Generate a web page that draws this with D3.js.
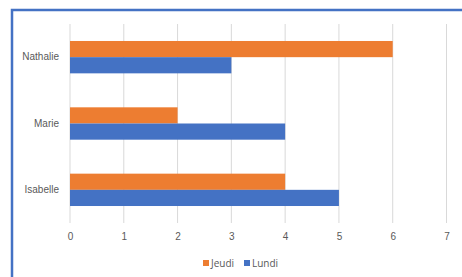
<!DOCTYPE html>
<html>
<head>
<meta charset="utf-8">
<script src="https://cdn.jsdelivr.net/npm/d3@7"></script>
<style>
	body { margin: 0; background: #fff; }
	svg { display: block; font-family: "Open Sans", "Noto Sans", sans-serif; }
</style>
</head>
<body>
<svg id="chart" width="462" height="277"></svg>
<script>
const categories = ["Nathalie", "Marie", "Isabelle"];
const seriesNames = ["Jeudi", "Lundi"];
const jeudi = [6, 2, 4];
const lundi = [3, 4, 5];
const xTicks = [0, 1, 2, 3, 4, 5, 6, 7];

const colors = { Jeudi: "#ED7D31", Lundi: "#4472C4" };

const svg = d3.select("#chart");
const width = 462, height = 277;
const marginTop = 24, marginBottom = 54, marginLeft = 70, marginRight = 15;

// frame (only top and left edges visible in the crop)
svg.append("path")
	.attr("d", `M12,${height} V10 H${width}`)
	.attr("fill", "none")
	.attr("stroke", "#4472C4")
	.attr("stroke-width", 2.5);

const x = d3.scaleLinear()
	.domain([0, 7])
	.range([marginLeft, 446.5]);

const y = d3.scaleBand()
	.domain(categories)
	.range([marginTop, height - marginBottom]);

const inner = d3.scaleBand()
	.domain(seriesNames)
	.range([0, y.bandwidth()])
	.paddingOuter(1.05)
	.paddingInner(0);

// gridlines
svg.append("g")
	.selectAll("line")
	.data(xTicks)
	.join("line")
	.attr("x1", d => x(d))
	.attr("x2", d => x(d))
	.attr("y1", marginTop)
	.attr("y2", height - marginBottom)
	.attr("stroke", "#d9d9d9")
	.attr("stroke-width", 1);

// bars
const rows = categories.map((c, i) => ({ cat: c, Jeudi: jeudi[i], Lundi: lundi[i] }));
const groups = svg.append("g")
	.selectAll("g")
	.data(rows)
	.join("g")
	.attr("transform", d => `translate(0,${y(d.cat)})`);

groups.selectAll("rect")
	.data(d => seriesNames.map(s => ({ s, v: d[s] })))
	.join("rect")
	.attr("x", x(0))
	.attr("y", d => inner(d.s))
	.attr("width", d => x(d.v) - x(0))
	.attr("height", inner.bandwidth())
	.attr("fill", d => colors[d.s]);

// x axis labels
const xAxis = svg.append("g")
	.attr("transform", `translate(0,${height - marginBottom})`)
	.call(d3.axisBottom(x).tickValues(xTicks).tickSize(0).tickPadding(10).tickFormat(d3.format("d")));
xAxis.select(".domain").remove();
xAxis.selectAll("text")
	.attr("fill", "#595959")
	.attr("font-size", "10px");

// y axis labels
const yAxis = svg.append("g")
	.attr("transform", `translate(${marginLeft},0)`)
	.call(d3.axisLeft(y).tickSize(0).tickPadding(11));
yAxis.select(".domain").remove();
yAxis.selectAll("text")
	.attr("fill", "#595959")
	.attr("font-size", "10px");

// legend
const legend = svg.append("g")
	.attr("font-size", "10px")
	.attr("fill", "#595959");
const legendX = [203, 244];
seriesNames.forEach((s, i) => {
	legend.append("rect")
		.attr("x", legendX[i])
		.attr("y", 260)
		.attr("width", 6)
		.attr("height", 6)
		.attr("fill", colors[s]);
	legend.append("text")
		.attr("x", legendX[i] + 8)
		.attr("y", 263)
		.attr("dy", "0.35em")
		.text(s);
});
</script>
</body>
</html>
